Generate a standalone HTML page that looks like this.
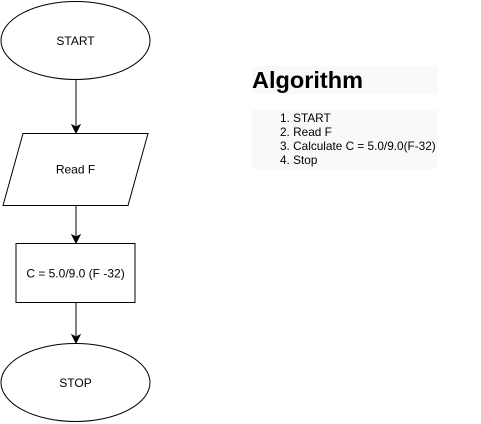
<!DOCTYPE html>
<html><head><meta charset="utf-8"><style>
html,body{margin:0;padding:0;background:#fff;width:481px;height:424px;overflow:hidden;position:relative;font-family:"Liberation Sans",Arial,sans-serif}
.t{position:absolute;font-size:11.8px;color:#000}
</style></head><body>
<svg width="481" height="424" style="position:absolute;left:0;top:0">
<ellipse cx="75.5" cy="40.5" rx="74.5" ry="39" fill="#fff" stroke="#000"/>
<line x1="76" y1="80" x2="76" y2="126" stroke="#000"/>
<polygon points="72,125 76,133 80,125 76,127" fill="#000" stroke="#000"/>
<polygon points="23,133.5 148,133.5 128,205.5 3,205.5" fill="#fff" stroke="#000"/>
<line x1="76" y1="206" x2="76" y2="236" stroke="#000"/>
<polygon points="72,235 76,243 80,235 76,237" fill="#000" stroke="#000"/>
<rect x="16" y="243.5" width="119" height="59" fill="#fff" stroke="#000"/>
<line x1="76" y1="303" x2="76" y2="336" stroke="#000"/>
<polygon points="72,335 76,343 80,335 76,337" fill="#000" stroke="#000"/>
<ellipse cx="75.5" cy="382.5" rx="74.5" ry="39" fill="#fff" stroke="#000"/>
<g font-size="12" text-anchor="middle" font-family="Liberation Sans">
<text x="75.5" y="45">START</text>
<text x="75.5" y="173.5">Read F</text>
<text x="75.5" y="277.5">C = 5.0/9.0 (F -32)</text>
<text x="75.5" y="387">STOP</text>
</g>
</svg>
<div style="position:absolute;left:252px;top:66px;width:185px;height:28px;background:#f8f9fa"></div>
<div style="position:absolute;left:252px;top:66px;font-size:23.5px;font-weight:bold;line-height:28px">Algorithm</div>
<div style="position:absolute;left:252px;top:110px;width:185px;height:59px;background:#f8f9fa"></div>
<div class="t" style="left:280px;top:111px;line-height:14px">1. START<br>2. Read F<br>3. Calculate C = 5.0/9.0(F-32)<br>4. Stop</div>
</body></html>
